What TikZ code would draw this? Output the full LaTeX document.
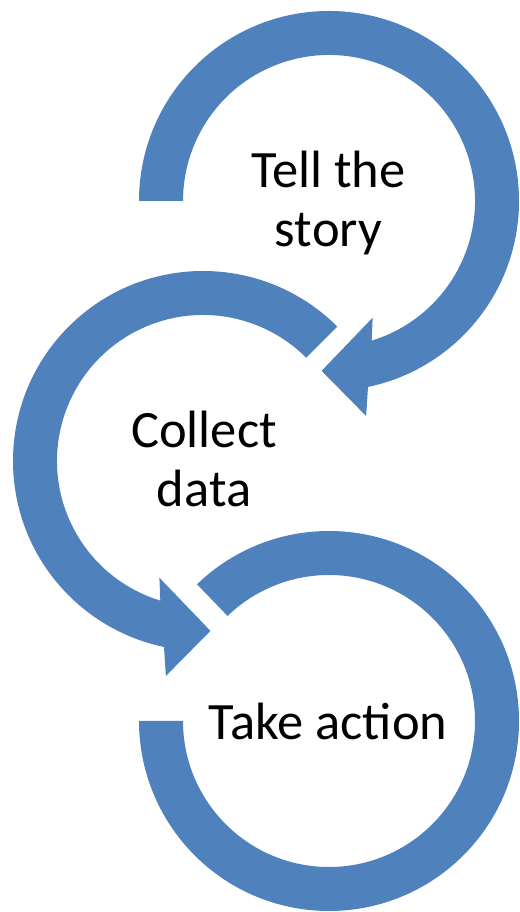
\documentclass[tikz,border=0pt]{standalone}
\usepackage{fontspec}
\setmainfont{Carlito}
\definecolor{arrowblue}{HTML}{4F81BD}
\begin{document}
\begin{tikzpicture}[x=1pt,y=1pt,
  ringarrow/.style={fill=arrowblue, draw=none},
  ringtext/.style={font=\fontsize{52.5}{59}\selectfont, align=center, text=black, inner sep=0pt, anchor=base}]
\useasboundingbox (0,0) rectangle (519,912);
% circle 1 : Tell the story (clockwise)
\begin{scope}[shift={(329,711)}]
\fill[ringarrow] (180:190) arc[start angle=180,end angle=-78.15,radius=190]
  -- (-80.2:218.2) -- (-92.5:170) -- (-69.5:124.6) -- (-73:146)
  arc[start angle=-73,end angle=180,radius=146] -- cycle;
\end{scope}
% circle 2 : Collect data (counter-clockwise)
\begin{scope}[shift={(203,451)}]
\fill[ringarrow] (45:190) arc[start angle=45,end angle=258.15,radius=190]
  -- (260.2:218.2) -- (272.5:170) -- (249.5:124.6) -- (253:146)
  arc[start angle=253,end angle=45,radius=146] -- cycle;
\end{scope}
% circle 3 : Take action (clockwise, no head)
\begin{scope}[shift={(329,191)}]
\fill[ringarrow] (134:190) arc[start angle=134,end angle=-180,radius=190]
  -- (-180:146) arc[start angle=-180,end angle=134,radius=146] -- cycle;
\end{scope}
\node[ringtext] (t1) at (328.5,665) {Tell the\\story};
\node[ringtext] (t2) at (204,405) {Collect\\data};
\node[ringtext] (t3) at (328,172) {Take action};
\end{tikzpicture}
\end{document}
